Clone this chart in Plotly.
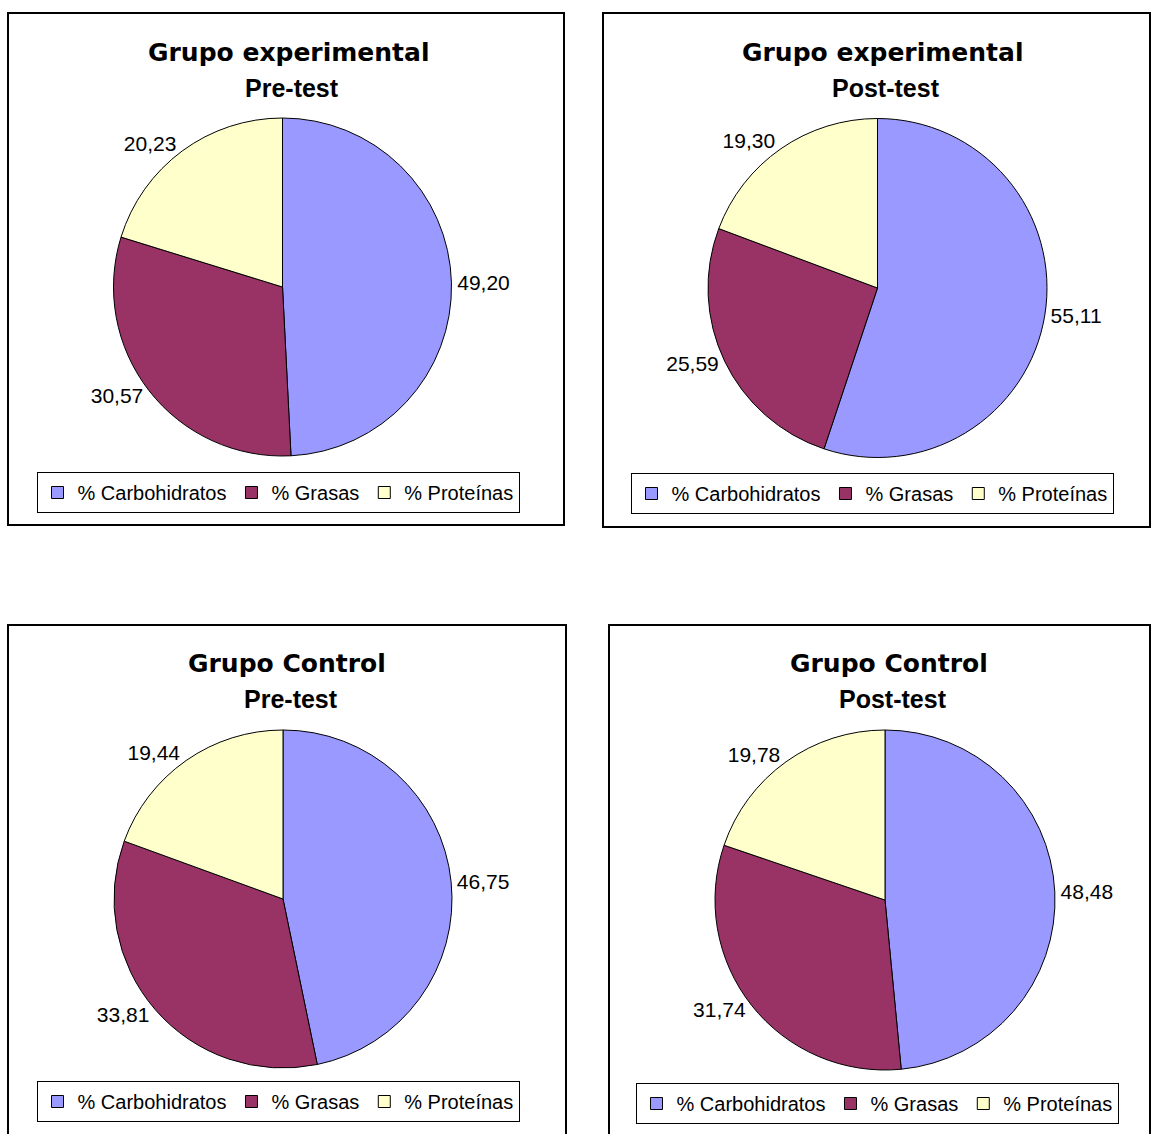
import plotly.graph_objects as go

# Macronutrient shares (%) for each group and test moment
categories = ["% Carbohidratos", "% Grasas", "% Proteínas"]
exp_pre = [49.20, 30.57, 20.23]
exp_post = [55.11, 25.59, 19.30]
ctrl_pre = [46.75, 33.81, 19.44]
ctrl_post = [48.48, 31.74, 19.78]

group_titles = ["Grupo experimental", "Grupo experimental", "Grupo Control", "Grupo Control"]
moment_titles = ["Pre-test", "Post-test", "Pre-test", "Post-test"]
series = [exp_pre, exp_post, ctrl_pre, ctrl_post]

colors = ["#9999FF", "#993366", "#FFFFCC"]

W, H = 1152, 1134


def px_x(v):
    return v / W


def px_y(v):
    return 1 - v / H


# Layout of each panel in pixels: frame, pie box, title centre, legend anchor
panels = [
    dict(frame=(8, 13, 564, 525), pie=(113, 118, 452, 456), tx=288, ty=(52, 88), leg=(278, 472)),
    dict(frame=(603, 13, 1150, 527), pie=(708, 118, 1047, 458), tx=882, ty=(52, 88), leg=(872, 473)),
    dict(frame=(8, 625, 566, 1140), pie=(113, 730, 453, 1068), tx=287, ty=(663, 699), leg=(278, 1081)),
    dict(frame=(609, 625, 1150, 1140), pie=(715, 730, 1055, 1070), tx=889, ty=(663, 699), leg=(877, 1083)),
]

fig = go.Figure()
shapes = []
annotations = []
legends = {}

for i, (vals, p) in enumerate(zip(series, panels)):
    legend_name = "legend" if i == 0 else f"legend{i + 1}"
    x0, y0, x1, y1 = p["pie"]
    fig.add_trace(go.Pie(
        labels=categories,
        values=vals,
        sort=False,
        direction="clockwise",
        rotation=0,
        marker=dict(colors=colors, line=dict(color="#000000", width=1)),
        textposition="outside",
        texttemplate="%{value:.2f}",
        textfont=dict(family="Liberation Sans, Arial, sans-serif", size=21, color="#000000"),
        hoverinfo="label+value",
        domain=dict(x=[px_x(x0), px_x(x1)], y=[px_y(y1), px_y(y0)]),
        legend=legend_name,
        legendgroup=f"panel{i + 1}",
        showlegend=True,
    ))

    fx0, fy0, fx1, fy1 = p["frame"]
    shapes.append(dict(
        type="rect", xref="paper", yref="paper",
        x0=px_x(fx0), x1=px_x(fx1), y0=px_y(fy1), y1=px_y(fy0),
        line=dict(color="#000000", width=2), fillcolor="rgba(0,0,0,0)", layer="below",
    ))

    annotations.append(dict(
        text=group_titles[i], xref="paper", yref="paper",
        x=px_x(p["tx"]), y=px_y(p["ty"][0]), xanchor="center", yanchor="middle",
        showarrow=False,
        font=dict(family="DejaVu Sans, Verdana, sans-serif", size=25, color="#000000", weight="bold"),
    ))
    annotations.append(dict(
        text=moment_titles[i], xref="paper", yref="paper",
        x=px_x(p["tx"] + 4), y=px_y(p["ty"][1]), xanchor="center", yanchor="middle",
        showarrow=False,
        font=dict(family="Liberation Sans, Arial, sans-serif", size=25, color="#000000", weight="bold"),
    ))

    lx, ly = p["leg"]
    legends[legend_name] = dict(
        orientation="h",
        x=px_x(lx), xanchor="center",
        y=px_y(ly), yanchor="top",
        bgcolor="#FFFFFF",
        bordercolor="#000000",
        borderwidth=1,
        font=dict(family="Liberation Sans, Arial, sans-serif", size=20, color="#000000"),
        traceorder="normal",
        itemclick=False,
        itemdoubleclick=False,
    )

fig.update_layout(
    width=W,
    height=H,
    margin=dict(l=0, r=0, t=0, b=0),
    paper_bgcolor="#FFFFFF",
    plot_bgcolor="#FFFFFF",
    separators=",.",
    shapes=shapes,
    annotations=annotations,
    **legends,
)

fig.write_html("out.html")
